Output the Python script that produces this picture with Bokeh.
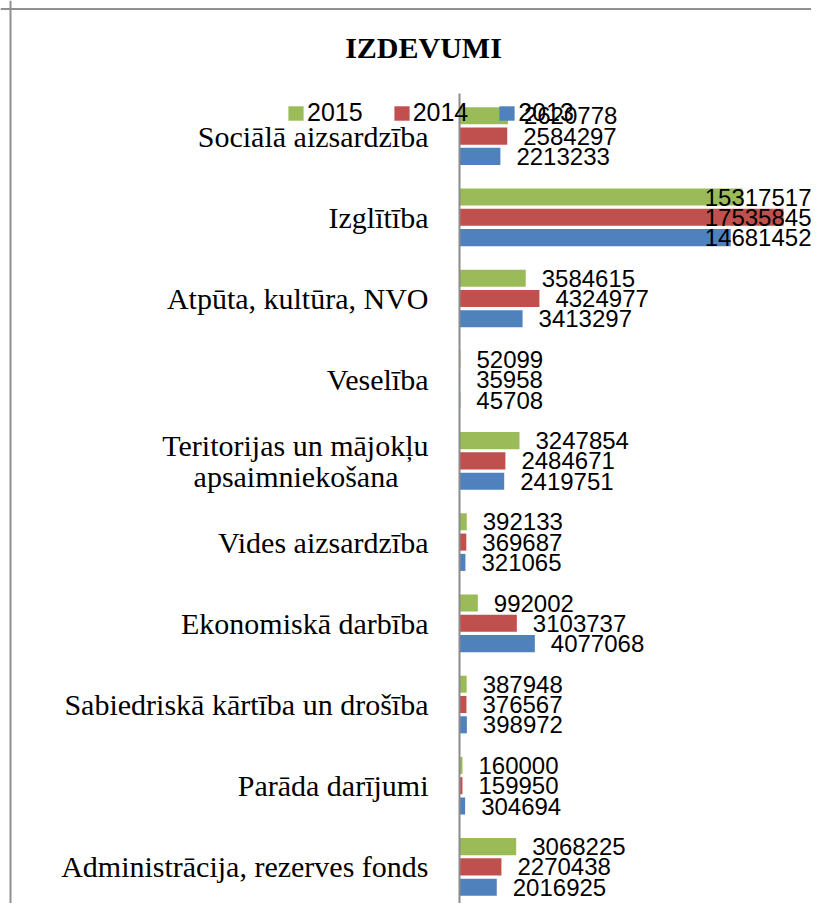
from bokeh.plotting import figure
from bokeh.models import (ColumnDataSource, Range1d, FixedTicker, Legend, LegendItem, Label, Span)
from bokeh.transform import dodge
from bokeh.core.properties import value
from bokeh.embed import file_html
from bokeh.resources import INLINE

# ---------------- data ----------------
categories = [
    "Sociālā aizsardzība",
    "Izglītība",
    "Atpūta, kultūra, NVO",
    "Veselība",
    "Teritorijas un mājokļu\napsaimniekošana\u00a0\u00a0\u00a0\u00a0",
    "Vides aizsardzība",
    "Ekonomiskā darbība",
    "Sabiedriskā kārtība un drošība",
    "Parāda darījumi",
    "Administrācija, rezerves fonds",
]
years = ["2015", "2014", "2013"]
v2015 = [2620778, 15317517, 3584615, 52099, 3247854, 392133, 992002, 387948, 160000, 3068225]
v2014 = [2584297, 17535845, 4324977, 35958, 2484671, 369687, 3103737, 376567, 159950, 2270438]
v2013 = [2213233, 14681452, 3413297, 45708, 2419751, 321065, 4077068, 398972, 304694, 2016925]
series = {"2015": v2015, "2014": v2014, "2013": v2013}
colors = {"2015": "#9BBB59", "2014": "#C0504D", "2013": "#4F81BD"}
offsets = {"2015": -0.25, "2014": 0.0, "2013": 0.25}

# ---------------- layout constants ----------------
W, H = 811, 903
AXIS_X = 459            # canvas x of the value axis
BAND_PX = 81.2          # pixels per category
FIRST_BAND_TOP = 95.0   # canvas y of the first band's top edge
X_END = 19051000
px_per_unit = (W - AXIS_X) / X_END
X_START = -AXIS_X / px_per_unit
Y_TOP = -0.5 - FIRST_BAND_TOP / BAND_PX
Y_BOTTOM = Y_TOP + H / BAND_PX
DIGIT_W = 13.35
LABEL_GAP = 16

p = figure(width=W, height=H, output_backend="svg", toolbar_location=None,
           x_range=Range1d(X_START, X_END), y_range=Range1d(Y_BOTTOM, Y_TOP),
           min_border=0, min_border_left=0, min_border_right=0,
           min_border_top=0, min_border_bottom=0)
p.outline_line_color = None
p.background_fill_color = "white"
p.xgrid.visible = False
p.ygrid.visible = False
p.xaxis.visible = False

# chart border (left and top edges visible)
p.add_layout(Span(location=X_START + 10 / px_per_unit, dimension="height",
                  line_color="#909090", line_width=2))
p.add_layout(Span(location=Y_TOP + 8.5 / BAND_PX, dimension="width",
                  line_color="#909090", line_width=2))

idx = list(range(len(categories)))
renderers = {}
for yr in years:
    vals = series[yr]
    src = ColumnDataSource(dict(y=idx, v=vals))
    r = p.hbar(y=dodge("y", offsets[yr], range=p.y_range), left=0, right="v",
               height=0.21, source=src, fill_color=colors[yr], line_color=None)
    renderers[yr] = r

    norm = dict(y=[], x=[], t=[])
    clamp = dict(y=[], x=[], t=[])
    for i, v in zip(idx, vals):
        t = str(v)
        need = (LABEL_GAP + len(t) * DIGIT_W) / px_per_unit
        if v + need > X_END:
            clamp["y"].append(i); clamp["x"].append(X_END); clamp["t"].append(t)
        else:
            norm["y"].append(i); norm["x"].append(v); norm["t"].append(t)
    common = dict(text_font=value("Liberation Sans"), text_font_size="24px",
                  text_color="black", text_baseline="middle")
    p.text(x="x", y=dodge("y", offsets[yr], range=p.y_range), text="t",
           source=ColumnDataSource(norm), x_offset=LABEL_GAP, text_align="left", **common)
    p.text(x="x", y=dodge("y", offsets[yr], range=p.y_range), text="t",
           source=ColumnDataSource(clamp), x_offset=0, text_align="right", **common)

ax = p.yaxis[0]
ax.fixed_location = 0
ax.bounds = (-0.53, Y_BOTTOM)
ax.ticker = FixedTicker(ticks=idx)
ax.major_label_overrides = {i: c for i, c in zip(idx, categories)}
ax.major_label_text_font = "Liberation Serif"
ax.major_label_text_font_size = "30px"
ax.major_label_text_color = "black"
ax.major_label_text_line_height = 0.95
ax.major_label_standoff = 25
ax.major_tick_line_color = None
ax.minor_tick_line_color = None
ax.axis_line_color = "#8c8c8c"
ax.axis_line_width = 2

legend = Legend(items=[LegendItem(label=yr, renderers=[renderers[yr]]) for yr in years],
                orientation="horizontal", location=(286, 776), padding=0, margin=0,
                spacing=29, label_standoff=2, glyph_width=19, glyph_height=18,
                label_text_font="Liberation Sans", label_text_font_size="25px",
                label_text_color="black",
                border_line_color=None, background_fill_alpha=0)
p.add_layout(legend)

title = Label(x=423, y=H - 47, x_units="screen", y_units="screen",
              text="IZDEVUMI", text_font="Liberation Serif", text_font_size="30px",
              text_font_style="bold", text_align="center", text_baseline="middle",
              text_color="black")
p.add_layout(title)

open("out.html", "w").write(file_html(p, INLINE))
